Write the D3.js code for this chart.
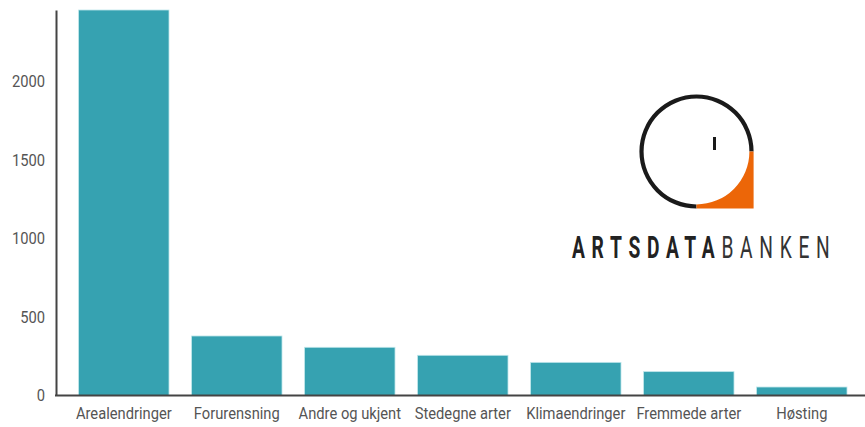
<!DOCTYPE html>
<html><head><meta charset="utf-8">
<script src="https://cdn.jsdelivr.net/npm/d3@7"></script>
<style>body{margin:0;background:#fff}svg{display:block}</style>
</head><body>
<svg id="c" width="865" height="427"></svg>
<script>
const categories = ["Arealendringer","Forurensning","Andre og ukjent","Stedegne arter","Klimaendringer","Fremmede arter","Høsting"];
const values = [2455, 379, 307, 256, 211, 152, 54];
const yTicks = [0, 500, 1000, 1500, 2000];

const svg = d3.select("#c");
const x0 = 56, x1 = 869.6, yTop = 10, yBase = 395.5;
const sx = 0.92;
const x = d3.scaleBand().domain(categories).range([x0, x1]).paddingInner(0.2).paddingOuter(0.2);
const y = d3.scaleLinear().domain([0, d3.max(values)]).range([yBase, yTop]);

svg.append("g").selectAll("rect").data(categories).join("rect")
  .attr("x", d => x(d)).attr("width", x.bandwidth())
  .attr("y", (d,i) => y(values[i])).attr("height", (d,i) => yBase - y(values[i]))
  .attr("fill", "#36a2b1").attr("stroke", "#bfe6ea").attr("stroke-width", 0.8);

const yAxis = d3.axisLeft(y).tickValues(yTicks).tickSize(0).tickPadding(11 / sx).tickFormat(d3.format("d"));
const gy = svg.append("g").attr("transform", `translate(${x0},0)`).call(yAxis);
gy.select(".domain").attr("stroke", "#444").attr("stroke-width", 2);
gy.selectAll("text").attr("font-family", "Roboto").attr("font-size", 16).attr("fill", "#555")
  .attr("transform", `scale(${sx},1)`);

const xAxis = d3.axisBottom(x).tickSize(0).tickPadding(12);
const gx = svg.append("g").attr("transform", `translate(0,${yBase})`).call(xAxis);
gx.select(".domain").remove();
gx.append("line").attr("x1", x0 - 1).attr("x2", 865).attr("y1", 0).attr("y2", 0).attr("stroke", "#444").attr("stroke-width", 2);
gx.selectAll("text").attr("font-family", "Roboto").attr("font-size", 16).attr("fill", "#555")
  .attr("transform", `scale(${sx},1)`);

// logo
const cx = 696.5, cy = 151.5, R = 55, sw = 4.2;
const logo = svg.append("g");
const arc = d3.arc().innerRadius(R - sw/2).outerRadius(R + sw/2).startAngle(Math.PI).endAngle(2.5 * Math.PI);
logo.append("path").attr("transform", `translate(${cx},${cy})`).attr("d", arc()).attr("fill", "#1a1a1a");
const ri = R - sw/2, Ro = R + sw/2;
logo.append("path")
  .attr("d", `M${cx + Ro},${cy} L${cx + Ro},${cy + Ro} L${cx},${cy + Ro} L${cx},${cy + ri} A${ri},${ri} 0 0 0 ${cx + ri},${cy} Z`)
  .attr("fill", "#ec6608");
logo.append("line").attr("x1", 714.5).attr("x2", 714.5).attr("y1", 137).attr("y2", 150)
  .attr("stroke", "#1a1a1a").attr("stroke-width", 3);
const t = logo.append("text").attr("transform", "translate(572,258) scale(0.63,1)")
  .attr("font-family", "Roboto").attr("font-size", 30.5).attr("letter-spacing", "10.6px").attr("fill", "#222");
t.append("tspan").attr("font-weight", 700).text("ARTSDATA");
t.append("tspan").attr("font-weight", 400).attr("fill", "#333").text("BANKEN");
</script>
</body></html>
